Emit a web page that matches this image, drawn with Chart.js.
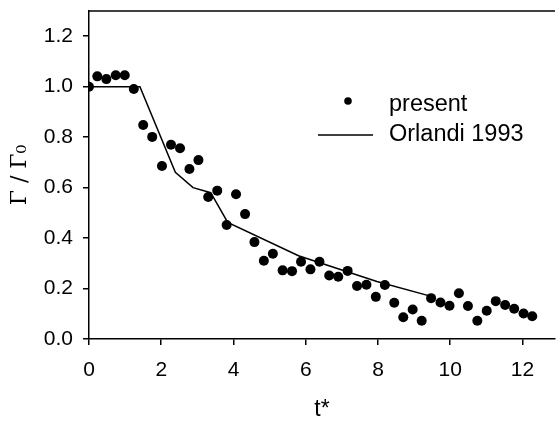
<!DOCTYPE html>
<html>
<head>
<meta charset="utf-8">
<script src="https://cdn.jsdelivr.net/npm/chart.js@4/dist/chart.umd.min.js"></script>
<style>
  html, body { margin: 0; padding: 0; background: #fff; overflow: hidden; }
</style>
</head>
<body>
<canvas id="chart" width="560" height="421"></canvas>
<script>
// measured circulation, "present"
const presentT = [0, 0.23, 0.48, 0.74, 0.99, 1.24, 1.50, 1.75, 2.02, 2.27, 2.52, 2.78, 3.03, 3.30, 3.55, 3.81, 4.07, 4.32, 4.58, 4.84, 5.09, 5.36, 5.62, 5.87, 6.13, 6.38, 6.65, 6.90, 7.16, 7.42, 7.68, 7.94, 8.19, 8.45, 8.70, 8.96, 9.21, 9.47, 9.73, 9.98, 10.24, 10.49, 10.75, 11.01, 11.26, 11.52, 11.77, 12.03, 12.27];
const presentG = [1.0, 1.041, 1.03, 1.045, 1.045, 0.991, 0.848, 0.801, 0.686, 0.770, 0.756, 0.674, 0.709, 0.563, 0.588, 0.452, 0.574, 0.495, 0.384, 0.310, 0.338, 0.272, 0.269, 0.306, 0.276, 0.306, 0.252, 0.247, 0.270, 0.210, 0.215, 0.167, 0.214, 0.144, 0.086, 0.117, 0.072, 0.162, 0.145, 0.132, 0.181, 0.131, 0.072, 0.112, 0.150, 0.135, 0.120, 0.101, 0.090];

// Orlandi 1993 curve
const orlandiT = [0, 1.41, 2.39, 2.88, 3.37, 3.84, 5.8, 7.97, 9.5];
const orlandiG = [1.0, 1.0, 0.661, 0.600, 0.580, 0.462, 0.330, 0.228, 0.168];

const xTicks = [0, 2, 4, 6, 8, 10, 12];
const yTicks = [0, 0.2, 0.4, 0.6, 0.8, 1.0, 1.2];

const sans = 'Liberation Sans, Arial, Helvetica, sans-serif';

// top frame line + legend inside plot
const extras = {
  id: 'extras',
  afterDraw(chart) {
    const ctx = chart.ctx;
    const a = chart.chartArea;
    ctx.save();
    ctx.strokeStyle = '#000';
    ctx.lineWidth = 1.5;
    ctx.beginPath();
    ctx.moveTo(a.left, a.top);
    ctx.lineTo(a.right, a.top);
    ctx.stroke();

    ctx.fillStyle = '#000';
    ctx.beginPath();
    ctx.arc(348, 101, 3.8, 0, Math.PI * 2);
    ctx.fill();
    ctx.lineWidth = 1.3;
    ctx.beginPath();
    ctx.moveTo(318, 135);
    ctx.lineTo(373, 135);
    ctx.stroke();

    ctx.font = '23.5px ' + sans;
    ctx.textAlign = 'left';
    ctx.textBaseline = 'alphabetic';
    ctx.fillText('present', 389, 111);
    ctx.fillText('Orlandi 1993', 389, 141);
    ctx.restore();
  }
};

new Chart(document.getElementById('chart'), {
  data: {
    datasets: [
      {
        type: 'scatter',
        label: 'present',
        data: presentT.map((t, i) => ({ x: t, y: presentG[i] })),
        backgroundColor: '#000',
        borderWidth: 0,
        pointRadius: 5,
      },
      {
        type: 'line',
        label: 'Orlandi 1993',
        data: orlandiT.map((t, i) => ({ x: t, y: orlandiG[i] })),
        borderColor: '#000',
        borderWidth: 1.5,
        pointRadius: 0,
        tension: 0,
        fill: false,
      },
    ],
  },
  options: {
    responsive: false,
    animation: false,
    layout: { padding: 0 },
    scales: {
      x: {
        type: 'linear',
        position: 'bottom',
        min: 0,
        max: 12.9,
        afterBuildTicks: (s) => { s.ticks = xTicks.map((v) => ({ value: v })); },
        afterFit: (s) => { s.height = 82; s.paddingRight = 0; s.paddingLeft = 0; },
        grid: { drawOnChartArea: false, color: '#000', tickLength: 6, lineWidth: 1.5 },
        border: { color: '#000', width: 1.5 },
        ticks: { color: '#000', font: { family: sans, size: 21 }, padding: 13, maxRotation: 0 },
        title: {
          display: true,
          text: 't*',
          color: '#000',
          font: { family: sans, size: 23, lineHeight: 1 },
          padding: { top: 0, bottom: 0 },
        },
      },
      y: {
        type: 'linear',
        min: 0,
        max: 1.3,
        afterBuildTicks: (s) => { s.ticks = yTicks.map((v) => ({ value: v })); },
        afterFit: (s) => { s.width = 89; s.paddingTop = 11; s.paddingBottom = 0; },
        grid: { drawOnChartArea: false, color: '#000', tickLength: 6, lineWidth: 1.5 },
        border: { color: '#000', width: 1.5 },
        ticks: {
          color: '#000',
          font: { family: sans, size: 21 },
          padding: 10,
          callback: (v) => v.toFixed(1),
        },
        title: {
          display: true,
          text: 'Γ / Γ₀',
          color: '#000',
          font: { family: 'DejaVu Serif, Liberation Serif, serif', size: 22, lineHeight: 1 },
          padding: { top: 9, bottom: 0 },
        },
      },
    },
    plugins: {
      legend: { display: false },
      tooltip: { enabled: false },
    },
  },
  plugins: [extras],
});
</script>
</body>
</html>
